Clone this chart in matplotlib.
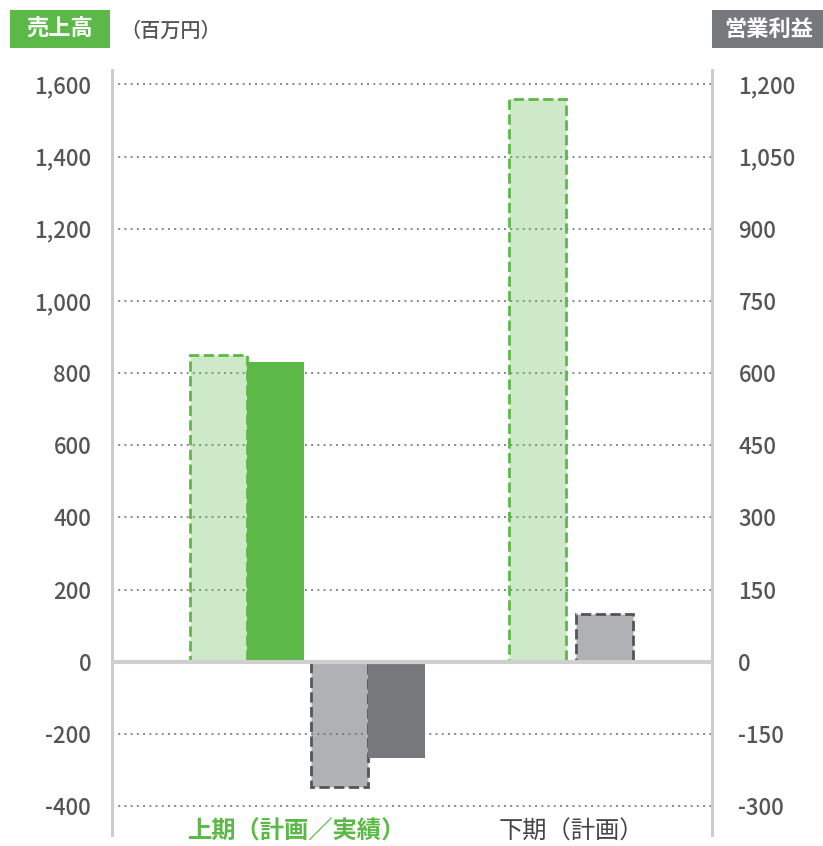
import matplotlib.pyplot as plt
from matplotlib.patches import Rectangle
from matplotlib.ticker import FuncFormatter
from matplotlib.transforms import blended_transform_factory

plt.rcParams['font.family'] = ['Noto Sans CJK JP', 'DejaVu Sans']

# データ（百万円）
periods = ["上期（計画／実績）", "下期（計画）"]
sales_plan = [850, 1560]
sales_actual = [830]          # 上期のみ
profit_plan = [-260, 100]
profit_actual = [-200]        # 上期のみ

left_ticks = [-400, -200, 0, 200, 400, 600, 800, 1000, 1200, 1400, 1600]
right_ticks = [-300, -150, 0, 150, 300, 450, 600, 750, 900, 1050, 1200]

GREEN = "#5cb947"
GREEN_LIGHT = (92/255, 185/255, 71/255, 0.30)
GRAY = "#77787b"
GRAY_LIGHT = (112/255, 114/255, 120/255, 0.55)
GRAY_EDGE = "#555558"
TXT = "#555555"
SPINE = "#cccccc"

W, H = 823, 846
fig = plt.figure(figsize=(W/100, H/100), dpi=100)
ax = fig.add_axes([112/W, 1-835/H, 600/W, 765/H])
ax2 = ax.twinx()

ylo, yhi = -480, 1640
ax.set_ylim(ylo, yhi)
ax2.set_ylim(ylo*0.75, yhi*0.75)
ax.set_xlim(-0.742, 1.535)

bw = 0.216
# 売上高
ax.bar(0-0.338, sales_plan[0], bw, facecolor=GREEN_LIGHT, edgecolor=GREEN,
       linestyle='--', linewidth=2, zorder=3)
ax.bar(0-0.121, sales_actual[0], bw, color=GREEN, linewidth=0, zorder=3)
ax.bar(1-0.127, sales_plan[1], bw, facecolor=GREEN_LIGHT, edgecolor=GREEN,
       linestyle='--', linewidth=2, zorder=3)
# 営業利益
ax2.bar(0+0.121, profit_plan[0], bw, facecolor=GRAY_LIGHT, edgecolor=GRAY_EDGE,
        linestyle='--', linewidth=2, zorder=3)
ax2.bar(0+0.338, profit_actual[0], bw, color=GRAY, linewidth=0, zorder=3)
ax2.bar(1+0.127, profit_plan[1], bw, facecolor=GRAY_LIGHT, edgecolor=GRAY_EDGE,
        linestyle='--', linewidth=2, zorder=3)
ax2.axhline(0, color="#cfcfcf", lw=3, zorder=5)

# グリッド
for t in left_ticks:
    if t != 0:
        ax.axhline(t, color="#888888", lw=1.4, ls=(0, (1, 2.2)), zorder=1)

fmt = FuncFormatter(lambda v, p: f"{int(v):,}")
ax.set_yticks(left_ticks)
ax.yaxis.set_major_formatter(fmt)
ax2.set_yticks(right_ticks)
ax2.yaxis.set_major_formatter(fmt)
ax.tick_params(axis='y', length=0, pad=15, labelsize=16, labelcolor=TXT)
ax2.tick_params(axis='y', length=0, pad=19, labelsize=16, labelcolor=TXT)
for a in (ax, ax2):
    a.set_xticks([])
    a.spines['top'].set_visible(False)
    a.spines['bottom'].set_visible(False)
    a.spines['left'].set_color(SPINE)
    a.spines['right'].set_color(SPINE)
    a.spines['left'].set_linewidth(2)
    a.spines['right'].set_linewidth(2)
    for lbl in a.get_yticklabels():
        lbl.set_horizontalalignment('right' if a is ax else 'left')
        lbl.set_fontweight('medium')

tr = blended_transform_factory(ax.transData, ax.transAxes)
ax.text(-0.04, 0.004, periods[0], transform=tr, ha='center', va='center',
        fontsize=17.5, fontweight='bold', color=GREEN)
ax.text(1.0, 0.004, periods[1], transform=tr, ha='center', va='center',
        fontsize=17.5, color="#444444")

# 見出し
fig.patches.append(Rectangle((10/W, 1-48/H), 100/W, 38/H, transform=fig.transFigure,
                             facecolor=GREEN, edgecolor='none'))
fig.text(60/W, 1-29/H, "売上高", ha='center', va='center', fontsize=16,
         color='white', fontweight='bold')
fig.text(171/W, 1-31/H, "（百万円）", ha='center', va='center', fontsize=14.5,
         color=TXT, fontweight='medium')
fig.patches.append(Rectangle((712/W, 1-48/H), 111/W, 38/H, transform=fig.transFigure,
                             facecolor=GRAY, edgecolor='none'))
fig.text(769/W, 1-29/H, "営業利益", ha='center', va='center', fontsize=16,
         color='white', fontweight='bold')

fig.savefig("out.png", dpi=100)
